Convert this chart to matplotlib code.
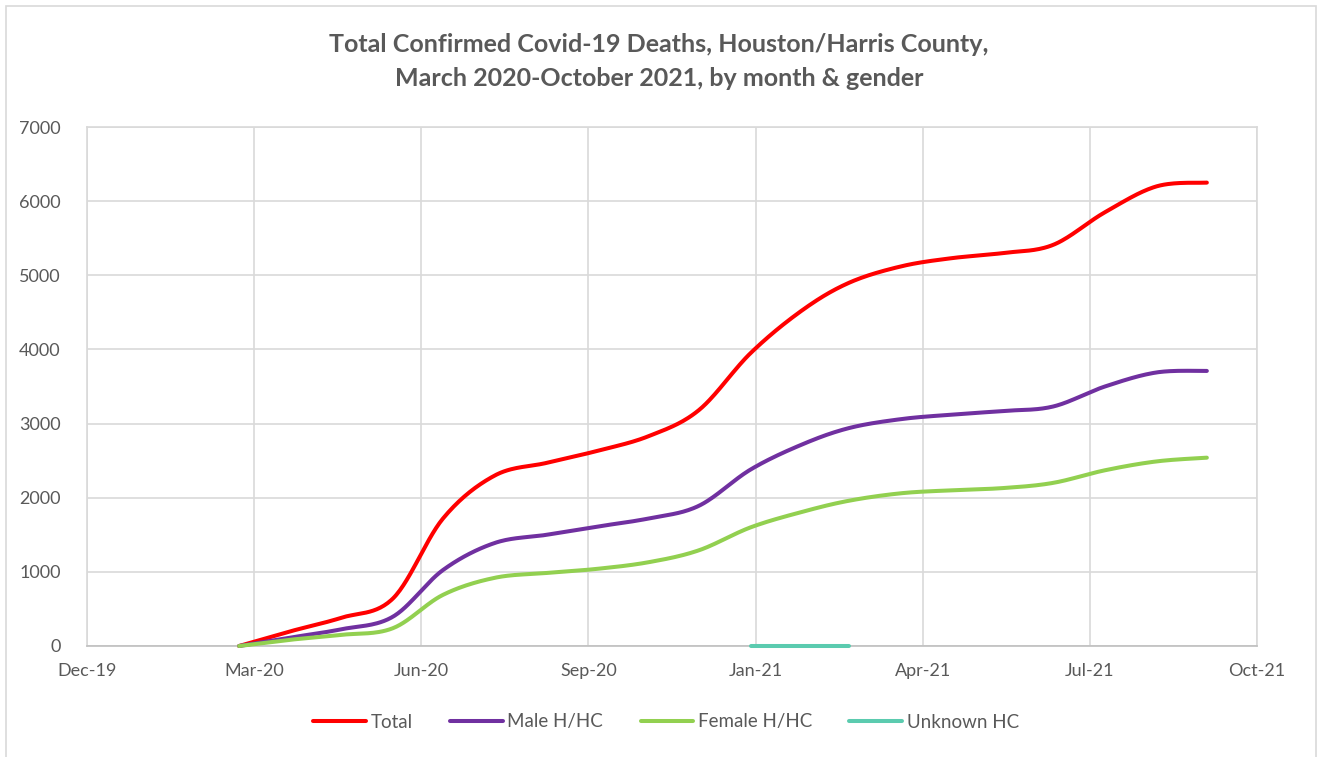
import datetime as dt
import numpy as np
import matplotlib
matplotlib.use("Agg")
import matplotlib.pyplot as plt
import matplotlib.dates as mdates
from matplotlib.patches import Rectangle

plt.rcParams['font.family'] = ['Lato', 'DejaVu Sans']

months = [dt.date(2020, 3, 1), dt.date(2020, 4, 1), dt.date(2020, 5, 1), dt.date(2020, 6, 1),
          dt.date(2020, 7, 1), dt.date(2020, 8, 1), dt.date(2020, 9, 1), dt.date(2020, 10, 1),
          dt.date(2020, 11, 1), dt.date(2020, 12, 1), dt.date(2021, 1, 1), dt.date(2021, 2, 1),
          dt.date(2021, 3, 1), dt.date(2021, 4, 1), dt.date(2021, 5, 1), dt.date(2021, 6, 1),
          dt.date(2021, 7, 1), dt.date(2021, 8, 1), dt.date(2021, 9, 1), dt.date(2021, 10, 1)]
total = [0, 200, 380, 640, 1720, 2300, 2470, 2630, 2830, 3180, 3950, 4530, 4900, 5120,
         5230, 5300, 5410, 5850, 6200, 6250]
male = [0, 115, 225, 395, 1025, 1390, 1500, 1610, 1720, 1890, 2380, 2720, 2940, 3060,
        3120, 3170, 3230, 3500, 3690, 3710]
female = [0, 85, 150, 240, 690, 920, 985, 1040, 1130, 1290, 1600, 1810, 1960, 2060,
          2100, 2130, 2200, 2370, 2490, 2540]
unknown_months = [dt.date(2021, 1, 1), dt.date(2021, 2, 1), dt.date(2021, 3, 1)]
unknown = [0, 0, 0]

series = [("Total", months, total, '#FF0000'),
          ("Male H/HC", months, male, '#7030A0'),
          ("Female H/HC", months, female, '#92D050'),
          ("Unknown HC", unknown_months, unknown, '#5BCBAF')]

grey = '#595959'

fig = plt.figure(figsize=(13.18, 7.57), dpi=100)
fig.patches.append(Rectangle((6 / 1318, -0.05), 1310 / 1318, 1.05 - 6 / 757,
                             transform=fig.transFigure, fill=False,
                             edgecolor='#D9D9D9', lw=1.2))
ax = fig.add_axes([87 / 1318, 1 - 646 / 757, 1170 / 1318, 519 / 757])

x0 = dt.date(2019, 12, 1)
ticks = [x0 + dt.timedelta(days=100 * i) for i in range(8)]
ax.set_xlim(mdates.date2num(ticks[0]), mdates.date2num(ticks[-1]))
ax.set_ylim(0, 7000)
ax.set_xticks(mdates.date2num(ticks))
ax.xaxis.set_major_formatter(mdates.DateFormatter('%b-%y'))
ax.set_yticks(range(0, 7001, 1000))


def smooth(xs, ys):
    # Excel-style smoothed line: cubic Bezier through points, done in pixel space
    pts = ax.transData.transform(np.column_stack([xs, ys]))
    n = len(pts)
    out = [pts[0]]
    t = np.linspace(0, 1, 30)[1:, None]
    for i in range(n - 1):
        p0 = pts[max(i - 1, 0)]
        p1 = pts[i]
        p2 = pts[i + 1]
        p3 = pts[min(i + 2, n - 1)]
        c1 = p1 + (p2 - p0) / 6
        c2 = p2 - (p3 - p1) / 6
        seg = ((1 - t) ** 3) * p1 + 3 * ((1 - t) ** 2) * t * c1 + 3 * (1 - t) * t ** 2 * c2 + t ** 3 * p2
        out.extend(seg)
    out = ax.transData.inverted().transform(np.array(out))
    return out[:, 0], out[:, 1]


for name, xs, ys, col in series:
    sx, sy = smooth(mdates.date2num(xs), ys)
    ax.plot(sx, sy, color=col, lw=2.9, label=name, solid_capstyle='round',
            clip_on=False, zorder=3)

ax.grid(True, color='#D9D9D9', lw=1.2)
ax.set_axisbelow(True)
for s in ax.spines.values():
    s.set_color('#D9D9D9')
    s.set_linewidth(1.2)
    s.set_zorder(1)
ax.spines['bottom'].set_color('#BFBFBF')
ax.tick_params(length=0, labelsize=13, labelcolor=grey)
ax.tick_params(axis='x', pad=12)
ax.tick_params(axis='y', pad=19)

fig.text(0.5, 1 - 45 / 757, "Total Confirmed Covid-19 Deaths, Houston/Harris County,",
         ha='center', va='center', fontsize=18, fontweight='bold', color=grey)
fig.text(0.5, 1 - 78 / 757, "March 2020-October 2021, by month & gender",
         ha='center', va='center', fontsize=18, fontweight='bold', color=grey)

fig.legend(loc='center', bbox_to_anchor=(666 / 1318, 1 - 722 / 757), ncol=4, frameon=False,
           fontsize=13.5, labelcolor=grey, handlelength=2.8, handletextpad=0.25,
           columnspacing=2.0)

fig.savefig('out.png', dpi=100)
